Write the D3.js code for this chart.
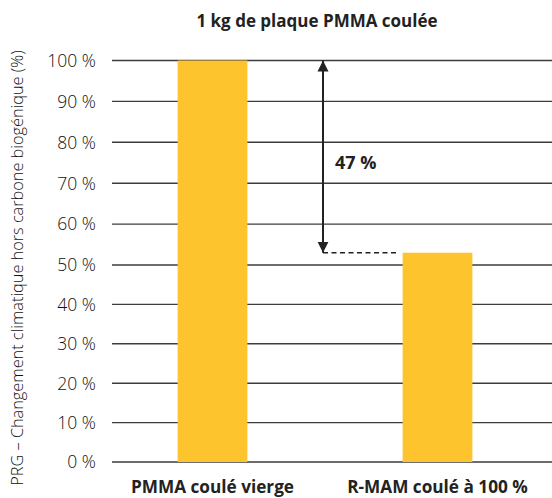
<!DOCTYPE html>
<html><head><meta charset="utf-8">
<script src="https://cdn.jsdelivr.net/npm/d3@7"></script>
<style>body{margin:0;background:#fff}svg{display:block}</style>
</head><body>
<script>
const categories = ["PMMA coulé vierge", "R-MAM coulé à 100 %"];
const values = [100, 53];
const yTicks = [0, 10, 20, 30, 40, 50, 60, 70, 80, 90, 100];
const title = "1 kg de plaque PMMA coulée";
const yTitle = "PRG – Changement climatique hors carbone biogénique (%)";
const diffLabel = "47 %";

const W = 552, H = 498;
const svg = d3.select("body").append("svg").attr("width", W).attr("height", H);
const font = "'Open Sans', 'Noto Sans', sans-serif";

const y = d3.scaleLinear().domain([0, 50, 100]).range([462, 265, 60.5]);
const x = d3.scaleBand().domain(categories).range([100, 550]).paddingInner(0.69).paddingOuter(0.345);

// gridlines + tick labels
const g = svg.append("g");
g.selectAll("line.grid").data(yTicks).join("line")
  .attr("x1", 112).attr("x2", W)
  .attr("y1", d => y(d)).attr("y2", d => y(d))
  .attr("stroke", "#3c3c3c").attr("stroke-width", 1.4);
g.selectAll("text.tick").data(yTicks).join("text")
  .attr("x", 96).attr("y", d => y(d)).attr("dy", "0.36em")
  .attr("text-anchor", "end").attr("font-family", font).attr("font-weight", 300)
  .attr("font-size", 17.5).attr("fill", "#111")
  .text(d => d + " %");

// bars
svg.selectAll("rect.bar").data(values).join("rect")
  .attr("x", (d, i) => x(categories[i])).attr("width", x.bandwidth())
  .attr("y", d => y(d)).attr("height", d => y(0) - y(d))
  .attr("fill", "#fdc42e");

// x labels
svg.selectAll("text.xl").data(categories).join("text")
  .attr("x", d => x(d) + x.bandwidth() / 2).attr("y", 493)
  .attr("text-anchor", "middle").attr("font-family", font).attr("font-weight", 700)
  .attr("font-size", 17.2).attr("fill", "#222").text(d => d);

// title
svg.append("text").attr("x", 317).attr("y", 27).attr("text-anchor", "middle")
  .attr("font-family", font).attr("font-weight", 700).attr("font-size", 17)
  .attr("fill", "#222").text(title);

// y title
svg.append("text").attr("transform", "translate(23," + 268 + ") rotate(-90)")
  .attr("text-anchor", "middle").attr("font-family", font).attr("font-weight", 300)
  .attr("font-size", 16.3).attr("fill", "#111").text(yTitle);

// arrow
const ax = 323;
const defs = svg.append("defs");
defs.append("marker").attr("id", "ah").attr("viewBox", "0 0 10 10")
  .attr("refX", 10).attr("refY", 5).attr("markerWidth", 5.5).attr("markerHeight", 6.5)
  .attr("markerUnits", "strokeWidth").attr("orient", "auto-start-reverse")
  .append("path").attr("d", "M0,0 L10,5 L0,10 Z").attr("fill", "#222");
svg.append("line").attr("x1", ax).attr("x2", ax)
  .attr("y1", y(values[0])).attr("y2", y(values[1]))
  .attr("stroke", "#222").attr("stroke-width", 2)
  .attr("marker-start", "url(#ah)").attr("marker-end", "url(#ah)");
svg.append("line").attr("x1", ax).attr("x2", x(categories[1]) - 4)
  .attr("y1", y(values[1])).attr("y2", y(values[1]))
  .attr("stroke", "#222").attr("stroke-width", 1.3).attr("stroke-dasharray", "5,3.5");
svg.append("text").attr("x", 335).attr("y", 169)
  .attr("font-family", font).attr("font-weight", 700).attr("font-size", 18)
  .attr("fill", "#222").text(diffLabel);
</script>
</body></html>
